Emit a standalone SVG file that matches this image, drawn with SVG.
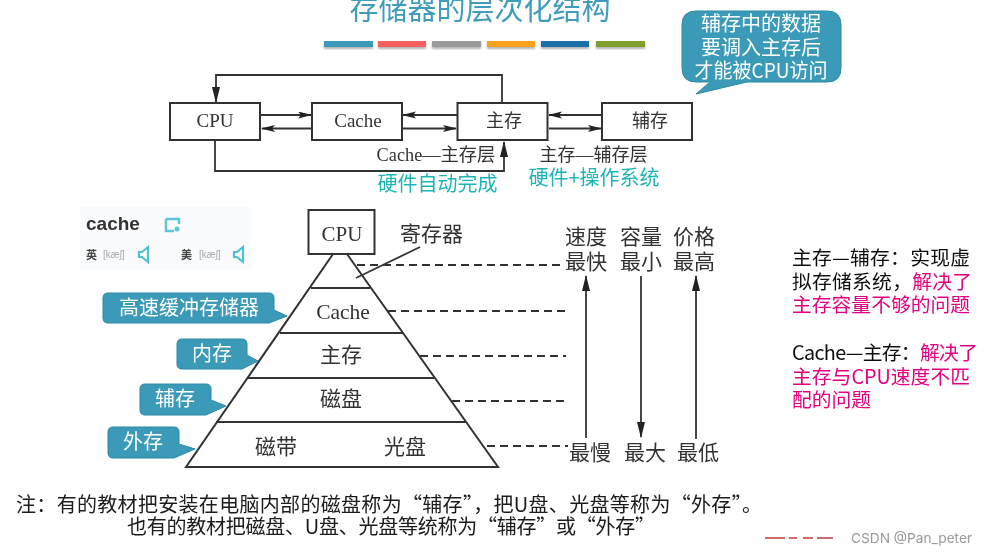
<svg xmlns="http://www.w3.org/2000/svg" width="987" height="555" viewBox="0 0 987 555">
<style>
.fig{font-family:"Liberation Serif","Noto Sans CJK SC",serif;fill:#333;text-anchor:middle}
.box{fill:#fff;stroke:#333;stroke-width:2}
.ln{fill:none;stroke:#333;stroke-width:1.8}
.dash{fill:none;stroke:#333;stroke-width:1.8;stroke-dasharray:8 5}
.call{fill:#3a9ab8;stroke:#2f8aa6;stroke-width:1}
.ct{font-family:"Noto Sans CJK SC","Liberation Sans",sans-serif;fill:#fff;text-anchor:middle;font-size:20px}
.teal{font-family:"Noto Sans CJK SC",sans-serif;fill:#1fb5b5;text-anchor:middle;font-size:20px}
.side{font-family:"Noto Sans CJK SC",sans-serif;font-size:19.800px;fill:#111}
.pink{fill:#e5007f}
.note{font-family:"Noto Sans CJK SC",sans-serif;font-size:20px;fill:#1a1a1a}
</style>
<defs>
<marker id="a" markerWidth="14" markerHeight="8" refX="13" refY="3.500" orient="auto" markerUnits="userSpaceOnUse"><path d="M0 0L14 3.500L0 7L3 3.500Z" fill="#222"/></marker>
<marker id="b" markerWidth="16" markerHeight="8" refX="15" refY="4" orient="auto" markerUnits="userSpaceOnUse"><path d="M0 0L16 4L0 8Z" fill="#222"/></marker>
<filter id="soft" x="-2%" y="-2%" width="104%" height="104%"><feGaussianBlur stdDeviation="0.45"/></filter>
<filter id="sh" x="-5%" y="-30%" width="110%" height="180%"><feDropShadow dx="0" dy="2" stdDeviation="1.2" flood-color="#000" flood-opacity="0.3"/></filter>
</defs>
<rect width="987" height="555" fill="#fff"/>
<g filter="url(#soft)">
<text id="title" x="480" y="20" font-family="Noto Sans CJK SC,sans-serif" font-size="29px" fill="#3f9dba" text-anchor="middle">存储器的层次化结构</text>
<g id="bars" filter="url(#sh)">
<rect x="324" y="41" width="49" height="6" fill="#3a9ab8"/>
<rect x="378" y="41" width="48" height="6" fill="#f4605f"/>
<rect x="432" y="41" width="49" height="6" fill="#9b9b9b"/>
<rect x="487" y="41" width="48" height="6" fill="#f9a11b"/>
<rect x="541" y="41" width="48" height="6" fill="#1f6ea8"/>
<rect x="596" y="41" width="49" height="6" fill="#7ea02f"/>
</g>

<g id="card">
<rect x="80" y="207" width="172" height="63" fill="#fafbfc"/>
<text x="86" y="230" font-family="Liberation Sans,sans-serif" font-weight="700" font-size="19px" fill="#333">cache</text>
<path d="M166 219H179V224M166 219V231H174" fill="none" stroke="#5cc6dc" stroke-width="2.400"/><circle cx="177" cy="229" r="2.500" fill="#5cc6dc"/>
<text x="86" y="259" font-family="Noto Sans CJK SC,sans-serif" font-size="11px" font-weight="700" fill="#444">英</text>
<text x="103" y="258" font-family="Liberation Sans,sans-serif" font-size="10px" fill="#aaa">[kæʃ]</text>
<path d="M139 252h3l6-5v15l-6-5h-3z" fill="none" stroke="#4fc0d8" stroke-width="2.200"/>
<text x="181" y="259" font-family="Noto Sans CJK SC,sans-serif" font-size="11px" font-weight="700" fill="#444">美</text>
<text x="199" y="258" font-family="Liberation Sans,sans-serif" font-size="10px" fill="#aaa">[kæʃ]</text>
<path d="M234 252h3l6-5v15l-6-5h-3z" fill="none" stroke="#4fc0d8" stroke-width="2.200"/>
</g>

<g id="top-connectors">
<path class="ln" d="M502 103V75H216V102" marker-end="url(#b)"/>
<path class="ln" d="M215 140V171H504V142" marker-end="url(#b)"/>
<path class="ln" d="M261 115H311" marker-end="url(#a)"/>
<path class="ln" d="M311 128.500H262" marker-end="url(#a)"/>
<path class="ln" d="M457 115H403" marker-end="url(#a)"/>
<path class="ln" d="M403 128.500H456" marker-end="url(#a)"/>
<path class="ln" d="M602 115H549" marker-end="url(#a)"/>
<path class="ln" d="M549 128.500H601" marker-end="url(#a)"/>
</g>
<g id="n-cpu"><rect class="box" x="170" y="103" width="90" height="37"/><text class="fig" x="215" y="127" font-size="19px">CPU</text></g>
<g id="n-cache"><rect class="box" x="312" y="103" width="90" height="37"/><text class="fig" x="358" y="127" font-size="19px">Cache</text></g>
<g id="n-main"><rect class="box" x="457.500" y="103" width="90" height="37"/><text class="fig" x="504" y="127" font-size="18px">主存</text></g>
<g id="n-aux"><rect class="box" x="602" y="103" width="90" height="37"/><text class="fig" x="650" y="127" font-size="18px">辅存</text></g>
<text class="fig" x="436" y="161" font-size="18.300px">Cache—主存层</text>
<text class="fig" x="593.500" y="161" font-size="18px">主存—辅存层</text>
<text class="teal" x="437.500" y="191">硬件自动完成</text>
<text class="teal" x="594" y="185">硬件+操作系统</text>

<g id="callout-top"><path class="call" d="M696 11H827Q841 11 841 25V68Q841 82 827 82H747L696 94L710 82H696Q682 82 682 68V25Q682 11 696 11Z"/>
<text class="ct" x="761" y="31">辅存中的数据</text><text class="ct" x="761" y="55">要调入主存后</text><text class="ct" x="761" y="78" textLength="133" lengthAdjust="spacingAndGlyphs">才能被CPU访问</text></g>

<g id="pyramid">
<path class="ln" style="stroke-width:2" d="M333 254L186 467H498L347 254"/>
<path class="ln" d="M311 288H370M280 333H403M248 378H434M216 422H466"/>
<path class="ln" d="M420 247L356 278"/>
</g>
<g id="n-cpu2"><rect class="box" x="308.500" y="210" width="66" height="44"/><text class="fig" x="342" y="241" font-size="21px">CPU</text></g>
<text class="fig" x="431.500" y="241" font-size="21px">寄存器</text>
<text class="fig" x="343" y="319" font-size="21.500px">Cache</text>
<text class="fig" x="341" y="362" font-size="21px">主存</text>
<text class="fig" x="341" y="406" font-size="21px">磁盘</text>
<text class="fig" x="276" y="454" font-size="21px">磁带</text>
<text class="fig" x="405" y="454" font-size="21px">光盘</text>

<g id="dashes">
<path class="dash" d="M357 265H562M388 311H568M420 356H566M452 401H565M487 446H568"/>
</g>
<g id="arrows">
<path class="ln" d="M586 438V276" marker-end="url(#b)"/>
<path class="ln" d="M641 276V437" marker-end="url(#b)"/>
<path class="ln" d="M696 439V276" marker-end="url(#b)"/>
</g>
<g font-size="21px">
<text class="fig" x="586" y="244">速度</text><text class="fig" x="641" y="244">容量</text><text class="fig" x="694" y="244">价格</text>
<text class="fig" x="586" y="269">最快</text><text class="fig" x="641" y="269">最小</text><text class="fig" x="694" y="269">最高</text>
<text class="fig" x="590" y="460">最慢</text><text class="fig" x="645" y="460">最大</text><text class="fig" x="698" y="460">最低</text>
</g>

<g id="callout-cache"><path class="call" d="M108 293H269Q274 293 274 298V310L287 316L269 323H108Q103 323 103 318V298Q103 293 108 293Z"/><text class="ct" x="189" y="315">高速缓冲存储器</text></g>
<g id="callout-mem"><path class="call" d="M182 339H242Q247 339 247 344V355L258 361L242 369H182Q177 369 177 364V344Q177 339 182 339Z"/><text class="ct" x="212" y="361">内存</text></g>
<g id="callout-aux"><path class="call" d="M145 384H206Q211 384 211 389V400L226 406L206 415H145Q140 415 140 410V389Q140 384 145 384Z"/><text class="ct" x="175" y="406">辅存</text></g>
<g id="callout-ext"><path class="call" d="M113 427H174Q179 427 179 432V444L195 449L174 458H113Q108 458 108 453V432Q108 427 113 427Z"/><text class="ct" x="143" y="449">外存</text></g>

<g id="side-notes">
<text class="side" x="792" y="265" textLength="178">主存—辅存：实现虚</text>
<text class="side" x="792" y="289" textLength="180">拟存储系统，<tspan class="pink">解决了</tspan></text>
<text class="side pink" x="792" y="312">主存容量不够的问题</text>
<text class="side" x="792" y="360" textLength="186">Cache—主存：<tspan class="pink">解决了</tspan></text>
<text class="side pink" x="792" y="384" textLength="178">主存与CPU速度不匹</text>
<text class="side pink" x="792" y="407">配的问题</text>
</g>
<g id="note">
<text class="note" x="16" y="512" textLength="746">注：有的教材把安装在电脑内部的磁盘称为“辅存”，把U盘、光盘等称为“外存”。</text>
<text class="note" x="127" y="534" textLength="528">也有的教材把磁盘、U盘、光盘等统称为“辅存”或“外存”</text>
</g>
<g id="mark">
<path d="M765 538H833" stroke="#c0393b" stroke-width="1.500" stroke-dasharray="20 4 8 6 10 4"/>
<text x="851" y="543" font-family="Inter,Liberation Sans,sans-serif" font-size="13.700px" fill="#999">CSDN @Pan_peter</text>
</g>
</g>
</svg>
